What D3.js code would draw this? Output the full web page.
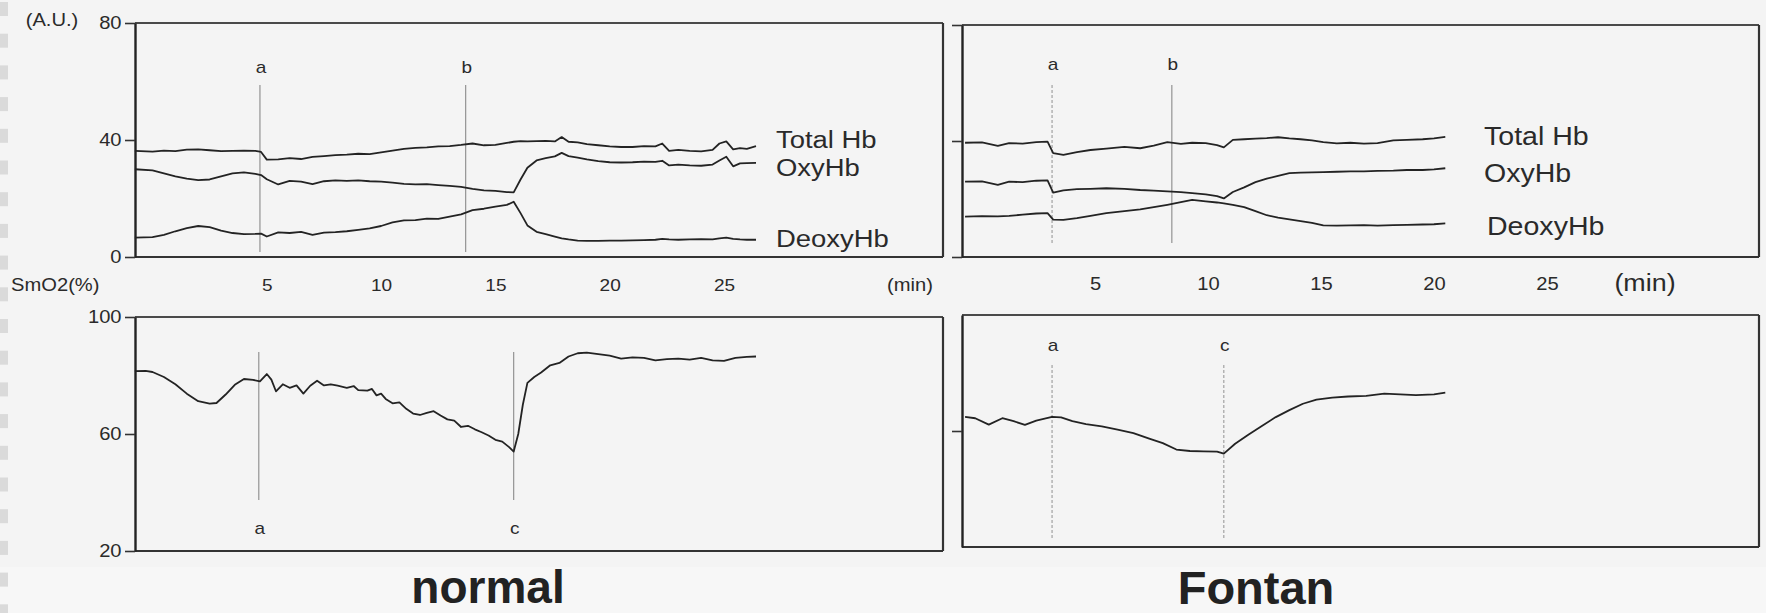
<!DOCTYPE html>
<html>
<head>
<meta charset="utf-8">
<script src="https://cdn.jsdelivr.net/npm/d3@7"></script>
<style>
  html, body { margin: 0; padding: 0; background: #f4f4f4; }
  svg { display: block; }
  text { font-family: "Liberation Sans", Arial, sans-serif; fill: #2a2a2a; }
</style>
</head>
<body>
<svg id="chart" width="1766" height="613"></svg>
<script>
// ---------------- DATA ----------------
// Normal subject: NIRS traces (A.U.) vs time (min)
const normalTime = [-0.77, 0, 0.5, 1, 1.5, 2, 2.5, 3, 3.5, 4, 4.5, 4.75, 5, 5.5, 6, 6.5, 7, 7.5, 8, 8.5, 9, 9.5, 10, 10.5, 11, 11.5, 12, 12.5, 13, 13.5, 14, 14.5, 15, 15.5, 15.8, 16.1, 16.4, 16.8, 17.2, 17.6, 17.9, 18.2, 18.6, 19, 19.5, 20, 20.5, 21, 21.5, 22, 22.3, 22.6, 23, 23.5, 24, 24.5, 24.8, 25.1, 25.4, 25.7, 26, 26.4];
const normalTotalHb = [36.3, 36.0, 36.4, 36.2, 36.7, 36.8, 36.5, 36.2, 36.3, 36.4, 36.3, 35.9, 33.3, 33.4, 33.8, 33.5, 34.2, 34.5, 34.8, 35.0, 35.3, 35.2, 35.8, 36.4, 37.0, 37.3, 37.5, 37.8, 37.9, 38.3, 38.8, 38.2, 38.3, 39.0, 39.4, 39.6, 39.5, 39.6, 39.7, 39.5, 41.0, 39.4, 39.2, 38.6, 38.2, 37.8, 37.6, 37.6, 37.9, 37.8, 38.8, 36.3, 36.6, 36.3, 36.1, 36.6, 38.8, 39.5, 36.8, 37.2, 37.0, 37.9];
const normalOxyHb = [30.0, 29.6, 28.6, 27.6, 26.8, 26.3, 26.5, 27.6, 28.6, 28.9, 28.4, 28.0, 26.6, 24.8, 26.0, 25.8, 24.9, 25.9, 26.2, 26.0, 26.2, 25.9, 25.8, 25.4, 25.0, 24.8, 24.9, 24.6, 24.3, 24.0, 23.3, 22.8, 22.6, 22.2, 22.1, 26.5, 30.5, 33.0, 33.8, 34.4, 35.6, 34.5, 34.0, 33.4, 32.8, 32.4, 32.3, 32.4, 32.6, 32.5, 32.9, 31.3, 31.6, 31.3, 31.2, 31.6, 33.0, 34.3, 31.0, 32.0, 32.1, 32.2];
const normalDeoxyHb = [6.6, 6.8, 7.6, 8.8, 9.9, 10.6, 10.2, 9.0, 8.2, 7.8, 7.9, 8.0, 7.0, 8.4, 8.2, 8.6, 7.6, 8.3, 8.5, 8.8, 9.3, 9.8, 10.6, 11.8, 12.5, 12.6, 13.1, 13.0, 13.8, 14.6, 16.0, 16.5, 17.2, 17.8, 18.9, 15.0, 10.8, 8.6, 7.8, 7.0, 6.4, 6.0, 5.6, 5.5, 5.5, 5.6, 5.6, 5.7, 5.8, 5.9, 6.2, 6.0, 5.9, 6.0, 6.1, 6.0, 6.4, 6.6, 6.2, 6.0, 5.9, 5.9];

// Normal subject: SmO2 (%) vs time (min)
const normalSmO2Time = [-0.77, -0.3, 0, 0.5, 1, 1.5, 2, 2.5, 2.8, 3.2, 3.6, 4.0, 4.4, 4.7, 5.0, 5.2, 5.4, 5.7, 6.0, 6.3, 6.6, 6.9, 7.2, 7.5, 7.8, 8.1, 8.5, 8.8, 9.0, 9.4, 9.6, 9.8, 10.0, 10.2, 10.5, 10.8, 11.1, 11.4, 11.7, 12.0, 12.3, 12.6, 12.9, 13.2, 13.5, 13.8, 14.1, 14.4, 14.7, 15.0, 15.3, 15.6, 15.8, 16.0, 16.2, 16.4, 16.7, 17.0, 17.4, 17.8, 18.2, 18.6, 19.0, 19.5, 20.0, 20.5, 21.0, 21.5, 22.0, 22.5, 23.0, 23.5, 24.0, 24.5, 25.0, 25.5, 26.0, 26.4];
const normalSmO2 = [81.5, 81.6, 81.2, 79.5, 77.0, 73.8, 71.2, 70.4, 70.6, 73.5, 76.8, 78.8, 78.5, 78.0, 80.5, 78.6, 74.6, 77.0, 75.8, 76.6, 73.8, 76.5, 78.2, 76.6, 77.0, 76.5, 75.8, 76.4, 75.0, 74.8, 75.4, 73.2, 73.8, 72.0, 70.5, 70.8, 68.6, 67.0, 66.5, 67.2, 67.8, 66.3, 65.0, 64.6, 62.4, 62.8, 61.6, 60.6, 59.5, 58.0, 57.4, 55.5, 54.0, 60.0, 70.0, 77.5, 79.5, 81.0, 83.5, 84.3, 86.5, 87.6, 87.8, 87.3, 86.8, 85.8, 86.2, 86.0, 85.2, 85.6, 85.8, 85.4, 86.0, 85.2, 85.0, 86.0, 86.4, 86.5];

// Fontan patient: NIRS traces (A.U.) vs time (min)
const fontanTime = [-0.75, 0, 0.7, 1.2, 1.8, 2.4, 2.9, 3.15, 3.6, 4.2, 4.8, 5.5, 6.3, 7.0, 7.6, 8.2, 8.8, 9.3, 9.9, 10.4, 10.7, 11.1, 11.6, 12.1, 12.6, 13.1, 13.6, 14.1, 14.6, 15.1, 15.7, 16.3, 16.9, 17.5, 18.2, 18.8, 19.5, 20.0, 20.5];
const fontanTotalHb = [39.4, 39.5, 38.3, 39.3, 39.1, 39.6, 39.8, 35.8, 35.2, 36.2, 36.9, 37.4, 38.0, 37.5, 38.4, 39.6, 39.0, 39.4, 39.3, 38.6, 37.8, 40.4, 40.6, 40.8, 41.0, 41.3, 40.9, 40.6, 40.2, 39.6, 39.2, 39.4, 39.1, 39.3, 40.2, 40.4, 40.6, 40.9, 41.4];
const fontanOxyHb = [26.0, 26.1, 24.9, 26.0, 25.8, 26.3, 26.4, 22.2, 23.0, 23.4, 23.5, 23.7, 23.5, 23.1, 22.9, 22.6, 22.4, 22.0, 21.6, 21.0, 20.2, 22.4, 24.0, 25.8, 27.0, 28.0, 28.9, 29.1, 29.2, 29.3, 29.4, 29.5, 29.5, 29.7, 29.8, 30.0, 30.0, 30.2, 30.6];
const fontanDeoxyHb = [13.9, 14.1, 14.0, 14.2, 14.6, 15.0, 15.1, 12.9, 12.8, 13.4, 14.2, 15.1, 15.8, 16.4, 17.2, 18.0, 18.9, 19.7, 19.2, 18.8, 18.5, 18.0, 17.2, 15.8, 14.4, 13.6, 13.0, 12.4, 11.8, 10.9, 10.8, 10.9, 11.0, 10.8, 11.0, 11.1, 11.2, 11.3, 11.6];

// Fontan patient: SmO2 (%) vs time (min)
const fontanSmO2Time = [-0.75, -0.3, 0.3, 0.9, 1.4, 1.9, 2.4, 3.1, 3.5, 4.0, 4.6, 5.3, 6.0, 6.7, 7.4, 8.0, 8.6, 9.2, 9.8, 10.4, 10.7, 11.2, 11.8, 12.4, 13.0, 13.6, 14.2, 14.8, 15.5, 16.2, 17.0, 17.8, 18.5, 19.2, 20.0, 20.5];
const fontanSmO2 = [64.9, 64.4, 62.2, 64.4, 63.4, 62.1, 63.6, 64.9, 64.7, 63.4, 62.4, 61.6, 60.5, 59.3, 57.4, 55.8, 53.6, 53.1, 53.0, 52.9, 52.2, 55.6, 58.8, 61.8, 64.8, 67.2, 69.4, 70.8, 71.5, 71.9, 72.1, 72.9, 72.6, 72.4, 72.6, 73.2];

// Event markers (min)
const normalTopEvents = [{label: "a", t: 4.7}, {label: "b", t: 13.7}];
const normalBottomEvents = [{label: "a", t: 4.65}, {label: "c", t: 15.8}];
const fontanTopEvents = [{label: "a", t: 3.1}, {label: "b", t: 8.4}];
const fontanBottomEvents = [{label: "a", t: 3.1}, {label: "c", t: 10.7}];

// Tick labels
const xTickValues = [5, 10, 15, 20, 25];
const hbTickValues = [0, 40, 80];
const smo2TickValues = [20, 60, 100];
const seriesNames = ["Total Hb", "OxyHb", "DeoxyHb"];

// ---------------- DRAWING ----------------
const svg = d3.select("#chart");
const ink = "#2b2b2b";
const SX = 1.12; // scanned text is slightly wider than the font

// background decoration
svg.append("rect").attr("x", 0).attr("y", 567).attr("width", 1766).attr("height", 46).attr("fill", "#f7f7f7");
svg.append("g").selectAll("rect").data(d3.range(0, 20)).join("rect")
  .attr("x", 0).attr("width", 8).attr("y", i => 2 + i * 31.7).attr("height", 14)
  .attr("fill", "#dadada");

function zip(ts, vs) { return ts.map((t, i) => ({t, v: vs[i]})); }

function addText(x, y, str, size, anchor, sx) {
  return svg.append("text")
    .attr("transform", `translate(${x},${y}) scale(${sx || SX},1)`)
    .attr("text-anchor", anchor || "start")
    .attr("dominant-baseline", "central")
    .attr("font-size", size).text(str);
}

function drawPanel(cfg) {
  const g = svg.append("g");
  const x = d3.scaleLinear().domain([0, 25]).range(cfg.xRange);
  const y = d3.scaleLinear().domain(cfg.yDomain).range([cfg.bottom, cfg.top]);

  // frame: top, right, bottom
  g.append("line").attr("x1", cfg.left).attr("x2", cfg.right).attr("y1", cfg.top).attr("y2", cfg.top)
    .attr("stroke", "#4a4a4a").attr("stroke-width", 1.8);
  g.append("line").attr("x1", cfg.right).attr("x2", cfg.right).attr("y1", cfg.top).attr("y2", cfg.bottom)
    .attr("stroke", "#333").attr("stroke-width", 2.2);
  g.append("line").attr("x1", cfg.left).attr("x2", cfg.right).attr("y1", cfg.bottom).attr("y2", cfg.bottom)
    .attr("stroke", "#333").attr("stroke-width", 2.2);

  // y axis
  const yAxis = d3.axisLeft(y).tickValues(cfg.yTicks).tickSize(10).tickSizeOuter(0).tickPadding(2)
    .tickFormat(cfg.yLabels ? d3.format("d") : "");
  const ya = g.append("g").attr("transform", `translate(${cfg.left},0)`).call(yAxis);
  ya.select(".domain").attr("stroke", "#222").attr("stroke-width", 2.4);
  ya.selectAll(".tick line").attr("stroke", "#333").attr("stroke-width", 1.6);
  ya.selectAll(".tick text").attr("font-size", 18).attr("fill", ink)
    .attr("transform", `scale(${SX},1)`)
    .style("font-family", "'Liberation Sans', Arial, sans-serif");

  // x tick labels (below the upper panel)
  if (cfg.xLabelsY) {
    const xAxis = d3.axisBottom(x).tickValues(xTickValues).tickSize(0).tickPadding(0);
    const xa = g.append("g").attr("transform", `translate(0,${cfg.xLabelsY})`).call(xAxis);
    xa.select(".domain").remove();
    xa.selectAll(".tick text").attr("font-size", cfg.xFont).attr("fill", ink).attr("dy", "0.35em")
      .attr("transform", `scale(${SX},1)`)
      .style("font-family", "'Liberation Sans', Arial, sans-serif");
  }

  // event markers
  cfg.events.forEach((ev, i) => {
    const dashed = cfg.markerDash && cfg.markerDash[i];
    g.append("line")
      .attr("x1", x(ev.t)).attr("x2", x(ev.t))
      .attr("y1", cfg.markerTop).attr("y2", cfg.markerBottom)
      .attr("stroke", dashed ? "#9a9a9a" : "#8a8a8a")
      .attr("stroke-width", 1.1)
      .attr("stroke-dasharray", dashed ? "3,2" : null);
    g.append("text").attr("transform", `translate(${x(ev.t) + 1},${cfg.markerLabelY}) scale(${SX},1)`)
      .attr("text-anchor", "middle").attr("dominant-baseline", "central")
      .attr("font-size", 17).text(ev.label);
  });

  // series
  const line = d3.line().x(d => x(d.t)).y(d => y(d.v));
  cfg.series.forEach(s => {
    g.append("path").datum(zip(s.time, s.values)).attr("d", line)
      .attr("fill", "none").attr("stroke", "#232323").attr("stroke-width", 1.8)
      .attr("stroke-linejoin", "round");
  });

  // series labels
  (cfg.seriesLabels || []).forEach(lb => {
    g.append("text").attr("transform", `translate(${lb.x},${y(lb.v)}) scale(${SX},1)`)
      .attr("dominant-baseline", "central")
      .attr("font-size", cfg.labelFont).text(lb.name);
  });
  return {x, y, g};
}

// Normal – upper
drawPanel({
  left: 135, right: 943, top: 23, bottom: 257,
  xRange: [152.5, 724], yDomain: [0, 80], yTicks: hbTickValues, yLabels: true,
  xLabelsY: 285, xFont: 17,
  events: normalTopEvents, markerTop: 85, markerBottom: 252, markerLabelY: 67,
  series: [
    {time: normalTime, values: normalTotalHb},
    {time: normalTime, values: normalOxyHb},
    {time: normalTime, values: normalDeoxyHb}
  ],
  labelFont: 24.5,
  seriesLabels: [
    {name: seriesNames[0], x: 776, v: 40.0},
    {name: seriesNames[1], x: 776, v: 30.5},
    {name: seriesNames[2], x: 776, v: 6.3}
  ]
});

// Normal – lower
drawPanel({
  left: 135, right: 943, top: 317, bottom: 551,
  xRange: [152.5, 724], yDomain: [20, 100], yTicks: smo2TickValues, yLabels: true,
  events: normalBottomEvents, markerTop: 352, markerBottom: 500, markerLabelY: 528,
  series: [{time: normalSmO2Time, values: normalSmO2}]
});

// Fontan – upper
drawPanel({
  left: 962, right: 1759, top: 25, bottom: 257,
  xRange: [982, 1547], yDomain: [0, 80], yTicks: hbTickValues, yLabels: false,
  xLabelsY: 284, xFont: 18,
  events: fontanTopEvents, markerTop: 85, markerBottom: 243, markerLabelY: 64,
  markerDash: [true, false],
  series: [
    {time: fontanTime, values: fontanTotalHb},
    {time: fontanTime, values: fontanOxyHb},
    {time: fontanTime, values: fontanDeoxyHb}
  ],
  labelFont: 25.5,
  seriesLabels: [
    {name: seriesNames[0], x: 1484, v: 41.8},
    {name: seriesNames[1], x: 1484, v: 29.0},
    {name: seriesNames[2], x: 1487, v: 10.6}
  ]
});

// Fontan – lower
drawPanel({
  left: 962, right: 1759, top: 315, bottom: 547,
  xRange: [982, 1547], yDomain: [20, 100], yTicks: [60], yLabels: false,
  events: fontanBottomEvents, markerTop: 365, markerBottom: 538, markerLabelY: 345,
  markerDash: [true, true],
  series: [{time: fontanSmO2Time, values: fontanSmO2}]
});

// Axis unit labels
addText(52, 20, "(A.U.)", 18, "middle");
addText(11, 285, "SmO2(%)", 18, "start");
addText(910, 285, "(min)", 18, "middle");
addText(1645, 283, "(min)", 24, "middle");

// Titles
svg.append("text").attr("x", 488).attr("y", 603).attr("text-anchor", "middle")
  .attr("font-size", 46).attr("font-weight", "bold").style("fill", "#222").text("normal");
svg.append("text").attr("x", 1256).attr("y", 604).attr("text-anchor", "middle")
  .attr("font-size", 47).attr("font-weight", "bold").style("fill", "#222").text("Fontan");
</script>
</body>
</html>
